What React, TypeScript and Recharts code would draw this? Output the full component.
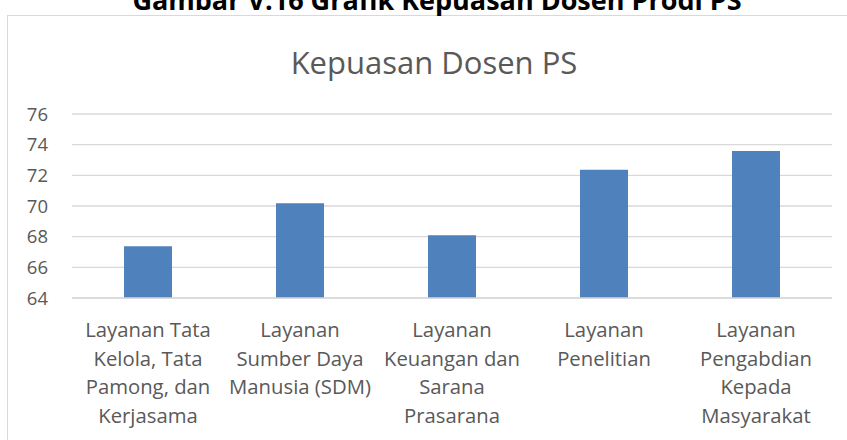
import { BarChart, Bar, XAxis, YAxis, CartesianGrid } from "recharts";

const categoryLines: string[][] = [
  ["Layanan Tata", "Kelola, Tata", "Pamong, dan", "Kerjasama"],
  ["Layanan", "Sumber Daya", "Manusia (SDM)"],
  ["Layanan", "Keuangan dan", "Sarana", "Prasarana"],
  ["Layanan", "Penelitian"],
  ["Layanan", "Pengabdian", "Kepada", "Masyarakat"],
];
const categories = categoryLines.map((l) => l.join(" "));
const scores = [67.37, 70.18, 68.09, 72.37, 73.59];
const yTicks = [64, 66, 68, 70, 72, 74, 76];

const data = categories.map((name, i) => ({ name, score: scores[i] }));

const FONT = "'Open Sans', sans-serif";
const GREY = "#595959";

const CategoryTick = ({ x, y, index }: any) => {
  const lines = categoryLines[index] || [];
  return (
    <text
      x={x}
      y={y + 31}
      textAnchor="middle"
      fill={GREY}
      style={{ fontFamily: FONT, fontSize: 20.3 }}
    >
      {lines.map((line, i) => (
        <tspan key={i} x={x} dy={i === 0 ? 0 : 28.7}>
          {line}
        </tspan>
      ))}
    </text>
  );
};

export default function App() {
  return (
    <div
      style={{
        position: "absolute",
        left: 0,
        top: 0,
        width: 847,
        height: 440,
        overflow: "hidden",
        background: "#fff",
      }}
    >
      <div
        style={{
          position: "absolute",
          left: 7,
          top: 15,
          width: 900,
          height: 500,
          border: "1.5px solid #d9d9d9",
        }}
      />
      <div style={{ position: "absolute", left: 0, top: 0 }}>
        <BarChart
          width={847}
          height={440}
          data={data}
          margin={{ top: 114, right: 15, bottom: 12, left: 0 }}
        >
          <CartesianGrid
            vertical={false}
            stroke="#d9d9d9"
            strokeWidth={1.3}
          />
          <XAxis
            dataKey="name"
            height={130}
            interval={0}
            axisLine={{ stroke: "#d9d9d9", strokeWidth: 1.3 }}
            tickLine={false}
            tick={<CategoryTick />}
          />
          <YAxis
            width={72}
            domain={[64, 76]}
            ticks={yTicks}
            axisLine={false}
            tickLine={false}
            tickMargin={18}
            tick={{ fill: GREY, fontSize: 18.5, fontFamily: FONT }}
          />
          <Bar
            dataKey="score"
            fill="#4f81bd"
            barSize={48}
            isAnimationActive={false}
          />
        </BarChart>
      </div>
      <svg
        width={847}
        height={440}
        style={{ position: "absolute", left: 0, top: 0, pointerEvents: "none" }}
      >
        <text
          x={437}
          y={10}
          textAnchor="middle"
          fill="#000"
          style={{ fontFamily: FONT, fontSize: 27, fontWeight: 700 }}
        >
          Gambar V.16 Grafik Kepuasan Dosen Prodi PS
        </text>
        <text
          x={434}
          y={74}
          textAnchor="middle"
          fill={GREY}
          style={{ fontFamily: FONT, fontSize: 31 }}
        >
          Kepuasan Dosen PS
        </text>
      </svg>
    </div>
  );
}
